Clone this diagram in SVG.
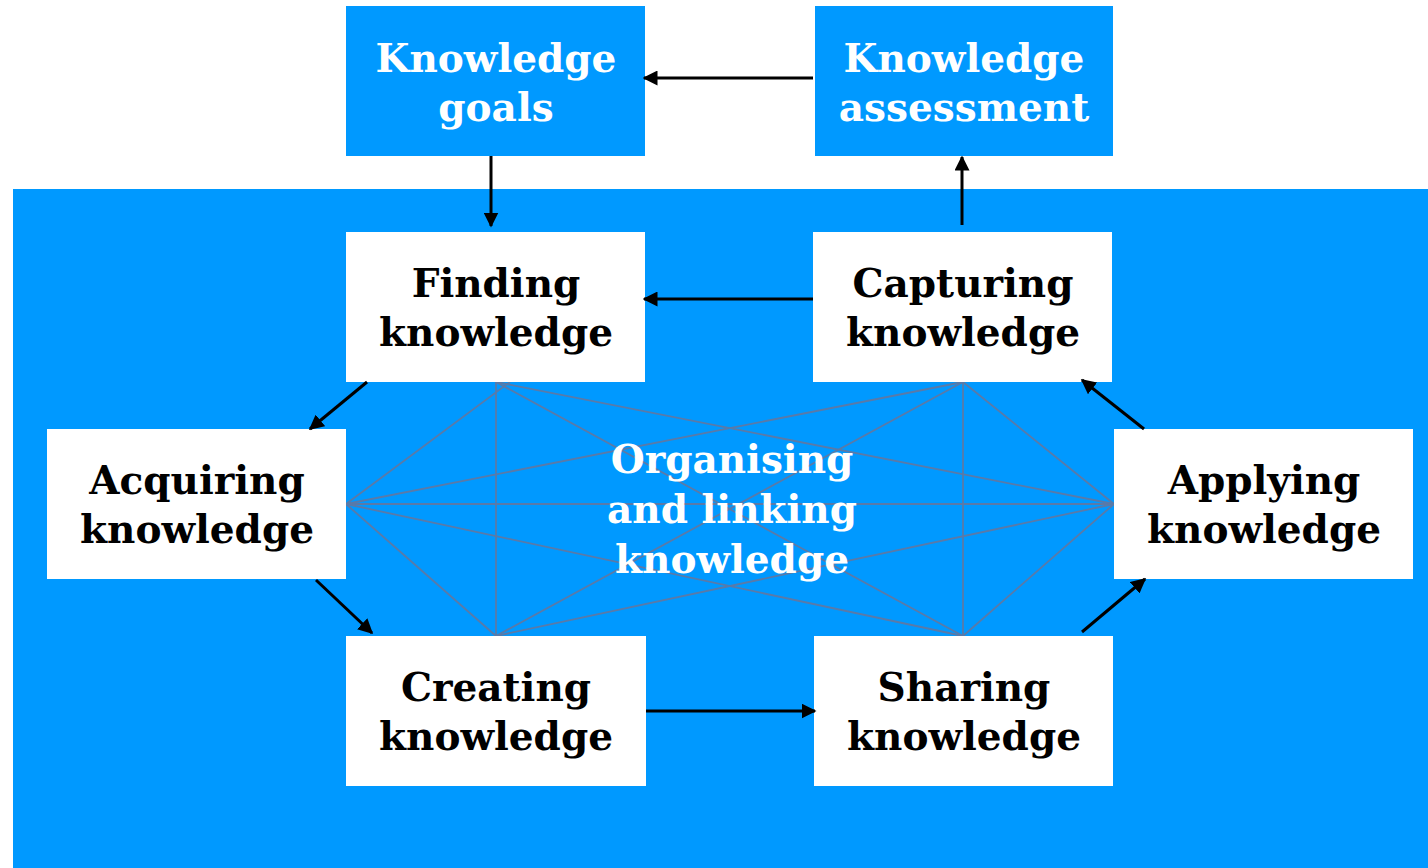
<svg xmlns="http://www.w3.org/2000/svg" width="1428" height="868" viewBox="0 0 1428 868">
<style>
.bl{fill:#0099ff}
.wb{fill:#ffffff}
text{font-family:"DejaVu Serif","Liberation Serif",serif;font-weight:bold;font-size:39px;text-anchor:middle}
.dk{fill:#000000}
.lt{fill:#ffffff}
.web line{stroke:#5a7aa8;stroke-width:1.8}
.arr line{stroke:#000;stroke-width:3;marker-end:url(#ah)}
</style>
<defs>
<marker id="ah" viewBox="0 0 10 10" refX="9" refY="5" markerWidth="5" markerHeight="5" markerUnits="strokeWidth" orient="auto">
<path d="M0,0 L10,5 L0,10 z" fill="#000"/>
</marker>
</defs>
<rect x="0" y="0" width="1428" height="868" fill="#ffffff"/>
<rect id="background" class="bl" x="13" y="189" width="1415" height="679"/>
<g class="web" id="links">
<line x1="496" y1="382" x2="496" y2="636"/>
<line x1="963" y1="382" x2="963" y2="636"/>
<line x1="346" y1="504" x2="1114" y2="504"/>
<line x1="346" y1="504" x2="510" y2="382"/>
<line x1="346" y1="504" x2="963" y2="382"/>
<line x1="346" y1="504" x2="496" y2="636"/>
<line x1="346" y1="504" x2="963" y2="636"/>
<line x1="1114" y1="504" x2="496" y2="382"/>
<line x1="1114" y1="504" x2="963" y2="382"/>
<line x1="1114" y1="504" x2="496" y2="636"/>
<line x1="1114" y1="504" x2="963" y2="636"/>
<line x1="496" y1="382" x2="963" y2="636"/>
<line x1="496" y1="636" x2="963" y2="382"/>
</g>
<g id="organising">
<text class="lt" x="732" y="473">Organising</text>
<text class="lt" x="732" y="523">and linking</text>
<text class="lt" x="732" y="573">knowledge</text>
</g>
<g id="goals">
<rect class="bl" x="346" y="6" width="299" height="150"/>
<text class="lt" x="496" y="72">Knowledge</text>
<text class="lt" x="496" y="121">goals</text>
</g>
<g id="assessment">
<rect class="bl" x="815" y="6" width="298" height="150"/>
<text class="lt" x="964" y="72">Knowledge</text>
<text class="lt" x="964" y="121">assessment</text>
</g>
<g id="finding">
<rect class="wb" x="346" y="232" width="299" height="150"/>
<text class="dk" x="496" y="297">Finding</text>
<text class="dk" x="496" y="346">knowledge</text>
</g>
<g id="capturing">
<rect class="wb" x="813" y="232" width="299" height="150"/>
<text class="dk" x="963" y="297">Capturing</text>
<text class="dk" x="963" y="346">knowledge</text>
</g>
<g id="acquiring">
<rect class="wb" x="47" y="429" width="299" height="150"/>
<text class="dk" x="197" y="494">Acquiring</text>
<text class="dk" x="197" y="543">knowledge</text>
</g>
<g id="applying">
<rect class="wb" x="1114" y="429" width="299" height="150"/>
<text class="dk" x="1264" y="494">Applying</text>
<text class="dk" x="1264" y="543">knowledge</text>
</g>
<g id="creating">
<rect class="wb" x="346" y="636" width="300" height="150"/>
<text class="dk" x="496" y="701">Creating</text>
<text class="dk" x="496" y="750">knowledge</text>
</g>
<g id="sharing">
<rect class="wb" x="814" y="636" width="299" height="150"/>
<text class="dk" x="964" y="701">Sharing</text>
<text class="dk" x="964" y="750">knowledge</text>
</g>
<g class="arr" id="connectors">
<line x1="813" y1="78" x2="644" y2="78"/>
<line x1="491" y1="156" x2="491" y2="226"/>
<line x1="962" y1="225" x2="962" y2="157"/>
<line x1="813" y1="299" x2="644" y2="299"/>
<line x1="367" y1="382" x2="310" y2="429"/>
<line x1="316" y1="580" x2="372" y2="633"/>
<line x1="646" y1="711" x2="815" y2="711"/>
<line x1="1082" y1="632" x2="1145" y2="579"/>
<line x1="1144" y1="429" x2="1082" y2="380"/>
</g>
</svg>
